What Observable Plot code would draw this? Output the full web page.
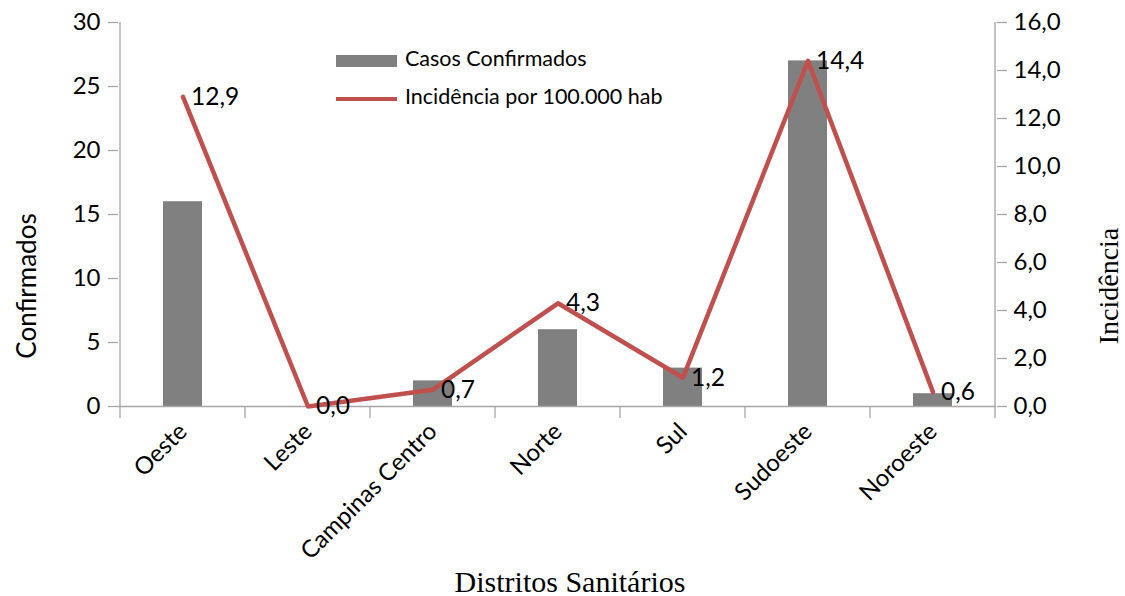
<!DOCTYPE html>
<html>
<head>
<meta charset="utf-8">
<script src="https://cdn.jsdelivr.net/npm/d3@7"></script>
<script src="https://cdn.jsdelivr.net/npm/@observablehq/plot@0.6"></script>
<style>
  body { margin: 0; background: #fff; }
  #wrap { position: relative; width: 1125px; height: 596px; font-family: Lato, "Noto Sans", sans-serif; }
  .lab { position: absolute; color: #000; white-space: nowrap; line-height: 1; }
  .serif { font-family: "Liberation Serif", "DejaVu Serif", serif; }
</style>
</head>
<body>
<div id="wrap"></div>
<script>
const districts = ["Oeste", "Leste", "Campinas Centro", "Norte", "Sul", "Sudoeste", "Noroeste"];
const confirmed = [16, 0, 2, 6, 3, 27, 1];
const incidence = [12.9, 0.0, 0.7, 4.3, 1.2, 14.4, 0.6];
const leftTicks = [0, 5, 10, 15, 20, 25, 30];
const rightTicks = [0, 2, 4, 6, 8, 10, 12, 14, 16];
const seriesNames = ["Casos Confirmados", "Incidência por 100.000 hab"];

const leftMax = 30, rightMax = 16;
const k = leftMax / rightMax;
const data = districts.map((d, i) => ({district: d, conf: confirmed[i], inc: incidence[i]}));
const fmt = v => v.toFixed(1).replace(".", ",");

const axisColor = "#a6a6a6";
const chart = Plot.plot({
  width: 1125,
  height: 596,
  marginLeft: 118,
  marginRight: 129,
  marginTop: 22,
  marginBottom: 190,
  style: {fontFamily: "Lato, 'Noto Sans', sans-serif", fontSize: "24px", color: "#000", background: "#fff"},
  x: {domain: districts, padding: 0, axis: null},
  y: {domain: [0, leftMax], axis: null},
  marks: [
    Plot.barY(data, {x: "district", y: "conf", fill: "#808080", insetLeft: 43, insetRight: 43}),
    Plot.ruleY([0], {stroke: axisColor, strokeWidth: 1.3}),
    Plot.axisY({anchor: "left", ticks: leftTicks, tickSize: 10, tickPadding: 8, stroke: axisColor, fontSize: 24, label: null, strokeWidth: 1.3}),
    Plot.axisY({anchor: "right", ticks: rightTicks.map(t => t * k), tickFormat: v => fmt(v / k), tickSize: 10, tickPadding: 7, stroke: axisColor, fontSize: 24, label: null, strokeWidth: 1.3}),
    Plot.lineY(data, {x: "district", y: d => d.inc * k, stroke: "#C0504D", strokeWidth: 4.5}),
    Plot.text(data, {x: "district", y: d => d.inc * k, text: d => fmt(d.inc), dx: 8, textAnchor: "start", fontSize: 24.5, fill: "#000"}),
    Plot.axisX({ticks: districts, tickRotate: -45, tickSize: 0, tickPadding: 21, fontSize: 24, label: null, stroke: axisColor})
  ]
});

// band boundary tick marks and vertical axis lines, positioned from the x/y scales
const xs = chart.scale("x");
const ys = chart.scale("y");
const svg = d3.select(chart);
const bw = xs.bandwidth;
const bounds = districts.map(d => xs.apply(d)).concat([xs.apply(districts[districts.length - 1]) + bw]);
svg.append("g").selectAll("line").data(bounds).join("line")
  .attr("x1", d => d).attr("x2", d => d)
  .attr("y1", ys.apply(0)).attr("y2", ys.apply(0) + 12)
  .attr("stroke", axisColor).attr("stroke-width", 1.3);
[bounds[0], bounds[bounds.length - 1]].forEach(x => {
  svg.append("line").attr("x1", x).attr("x2", x).attr("y1", ys.apply(0)).attr("y2", ys.apply(leftMax))
    .attr("stroke", axisColor).attr("stroke-width", 1.3);
});

const wrap = document.getElementById("wrap");
wrap.appendChild(chart);

function addLabel(html, style, cls) {
  const el = document.createElement("div");
  el.className = "lab " + (cls || "");
  el.innerHTML = html;
  Object.assign(el.style, style);
  wrap.appendChild(el);
  return el;
}
// legend
addLabel(`<span style="display:inline-block;width:61px;height:12px;background:#808080;vertical-align:middle;margin-right:8px"></span>${seriesNames[0]}`,
  {left: "336px", top: "48px", fontSize: "21.5px"});
addLabel(`<span style="display:inline-block;width:61px;height:4px;background:#C0504D;vertical-align:middle;margin-right:8px"></span>${seriesNames[1]}`,
  {left: "336px", top: "86px", fontSize: "21.5px"});
// axis titles
addLabel("Incidência", {left: "1109px", top: "286px", fontSize: "28px", transform: "translate(-50%,-50%) rotate(-90deg)"}, "serif");
addLabel("Confirmados", {left: "26px", top: "286px", fontSize: "26px", transform: "translate(-50%,-50%) rotate(-90deg)"});
addLabel("Distritos Sanitários", {left: "570px", top: "582px", fontSize: "30px", transform: "translate(-50%,-50%)"}, "serif");
</script>
</body>
</html>
